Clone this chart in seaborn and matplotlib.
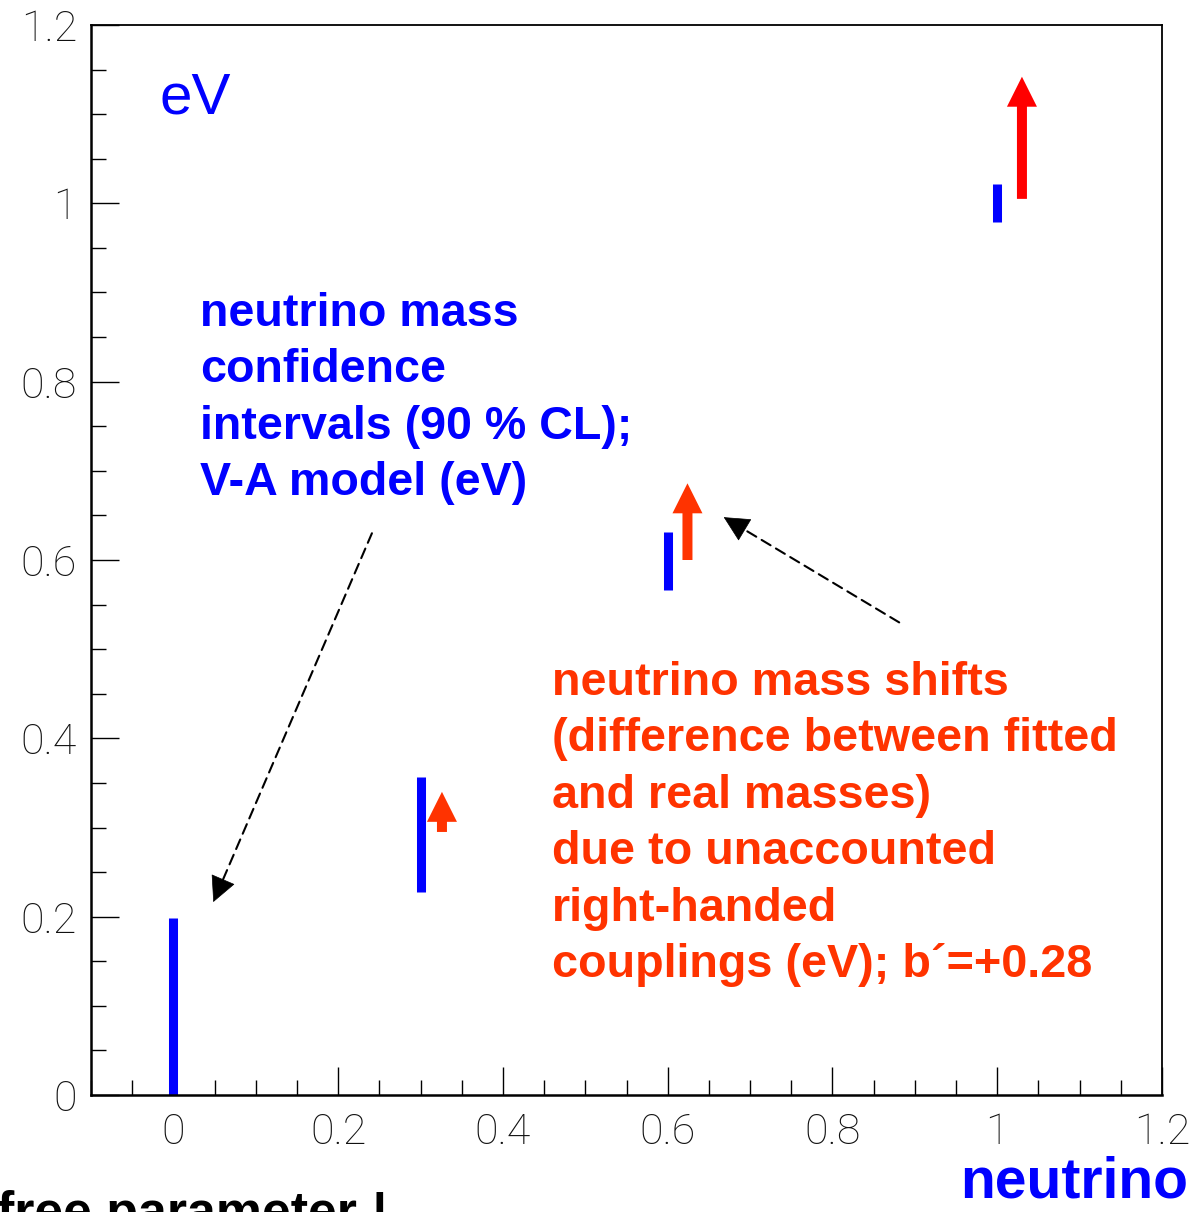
import matplotlib
matplotlib.use("Agg")
import matplotlib.pyplot as plt
import seaborn as sns
import pandas as pd
from matplotlib.ticker import MultipleLocator, FixedLocator

# True neutrino masses (eV) and the 90 % CL intervals of the V-A fit
true_mass = [0.0, 0.3, 0.6, 1.0]
ci_low = [0.0, 0.228, 0.566, 0.979]
ci_high = [0.198, 0.357, 0.631, 1.022]

# Fitted-mass shifts caused by unaccounted right-handed couplings (b' = +0.28)
shift_x = [0.326, 0.624, 1.030]
shift_from = [0.295, 0.600, 1.005]
shift_to = [0.340, 0.686, 1.142]
shift_colors = ["#ff3300", "#ff3300", "#ff0000"]

tick_values = [0.0, 0.2, 0.4, 0.6, 0.8, 1.0, 1.2]
tick_labels = ["0", "0.2", "0.4", "0.6", "0.8", "1", "1.2"]

BLUE = "#0000ff"
ORANGE = "#ff3300"

sns.set_theme(style="white")
plt.rcParams["font.family"] = ["Liberation Sans", "DejaVu Sans"]

W, H = 1198, 1212
fig = plt.figure(figsize=(W / 100, H / 100), dpi=100)
ax = fig.add_axes([91 / W, 1 - 1095 / H, (1162 - 91) / W, (1095 - 25) / H])


def px(x, y):
    """Pixel position (from the top-left corner) to figure fraction."""
    return x / W, 1 - y / H


# Confidence intervals as vertical segments
rows = []
for i, (m, lo, hi) in enumerate(zip(true_mass, ci_low, ci_high)):
    rows.append({"interval": i, "mass": m, "eV": lo})
    rows.append({"interval": i, "mass": m, "eV": hi})
intervals = pd.DataFrame(rows)
sns.lineplot(data=intervals, x="mass", y="eV", units="interval", estimator=None,
             sort=False, color=BLUE, linewidth=6.5, legend=False, ax=ax)
for line in ax.lines:
    line.set_solid_capstyle("butt")

# Mass shifts as thick arrows
for x, y0, y1, c in zip(shift_x, shift_from, shift_to, shift_colors):
    ax.annotate("", xy=(x, y1), xytext=(x, y0),
                arrowprops=dict(arrowstyle="simple,head_length=3,head_width=3,tail_width=1",
                                mutation_scale=7.2, color=c, lw=0,
                                shrinkA=0, shrinkB=0))


def pointer(x0, y0, x1, y1):
    """Dashed black pointer with a solid head ending at (x1, y1)."""
    ax.annotate("", xy=(x1, y1), xytext=(x0, y0),
                arrowprops=dict(arrowstyle="-", color="black", lw=1.5,
                                linestyle=(0, (5, 3)), shrinkA=0, shrinkB=8))
    f = 0.06
    ax.annotate("", xy=(x1, y1), xytext=(x1 + (x0 - x1) * f, y1 + (y0 - y1) * f),
                arrowprops=dict(arrowstyle="-|>,head_length=1.7,head_width=0.85",
                                mutation_scale=10, color="black", lw=0.5,
                                shrinkA=0, shrinkB=0))


pointer(0.241, 0.630, 0.0485, 0.2164)
pointer(0.881, 0.530, 0.668, 0.648)

# Axes frame and ticks
ax.set_xlim(-0.1, 1.2)
ax.set_ylim(0.0, 1.2)
ax.set_xlabel("")
ax.set_ylabel("")
for s in ax.spines.values():
    s.set_color("black")
    s.set_linewidth(1.3)
ax.spines["bottom"].set_linewidth(1.8)
ax.spines["left"].set_linewidth(1.8)

ax.xaxis.set_major_locator(FixedLocator(tick_values))
ax.yaxis.set_major_locator(FixedLocator(tick_values))
ax.set_xticklabels(tick_labels)
ax.set_yticklabels(tick_labels)
ax.xaxis.set_minor_locator(MultipleLocator(0.05))
ax.yaxis.set_minor_locator(MultipleLocator(0.05))
ax.tick_params(which="both", direction="in", color="black", width=1,
               bottom=True, left=True, top=False, right=False)
ax.tick_params(which="major", length=20)
ax.tick_params(which="minor", length=11)
ax.tick_params(axis="x", which="major", pad=12)
ax.tick_params(axis="y", which="major", pad=10)
for lab in ax.get_xticklabels() + ax.get_yticklabels():
    lab.set_family(["Roboto", "DejaVu Sans"])
    lab.set_fontweight("light")
    lab.set_fontsize(31)
    lab.set_color("#111111")

# Annotations
fig.text(*px(160, 113), "eV", color=BLUE, fontsize=42, va="baseline", ha="left")

blue_lines = ["neutrino mass", "confidence", "intervals (90 % CL);", "V-A model (eV)"]
for k, t in enumerate(blue_lines):
    fig.text(*px(200, 326 + 56.4 * k), t, color=BLUE, fontsize=33.6,
             fontweight="bold", va="baseline", ha="left")

red_lines = ["neutrino mass shifts", "(difference between fitted",
             "and real masses)", "due to unaccounted", "right-handed",
             "couplings (eV); b\u00b4=+0.28"]
for k, t in enumerate(red_lines):
    fig.text(*px(552, 695 + 56.4 * k), t, color=ORANGE, fontsize=33.7,
             fontweight="bold", va="baseline", ha="left")

fig.text(*px(1188, 1198), "neutrino", color=BLUE, fontsize=41,
         fontweight="bold", va="baseline", ha="right")
fig.text(*px(-3, 1228), "free parameter !", color="black", fontsize=37.4,
         fontweight="bold", va="baseline", ha="left")

fig.savefig("out.png", dpi=100)
